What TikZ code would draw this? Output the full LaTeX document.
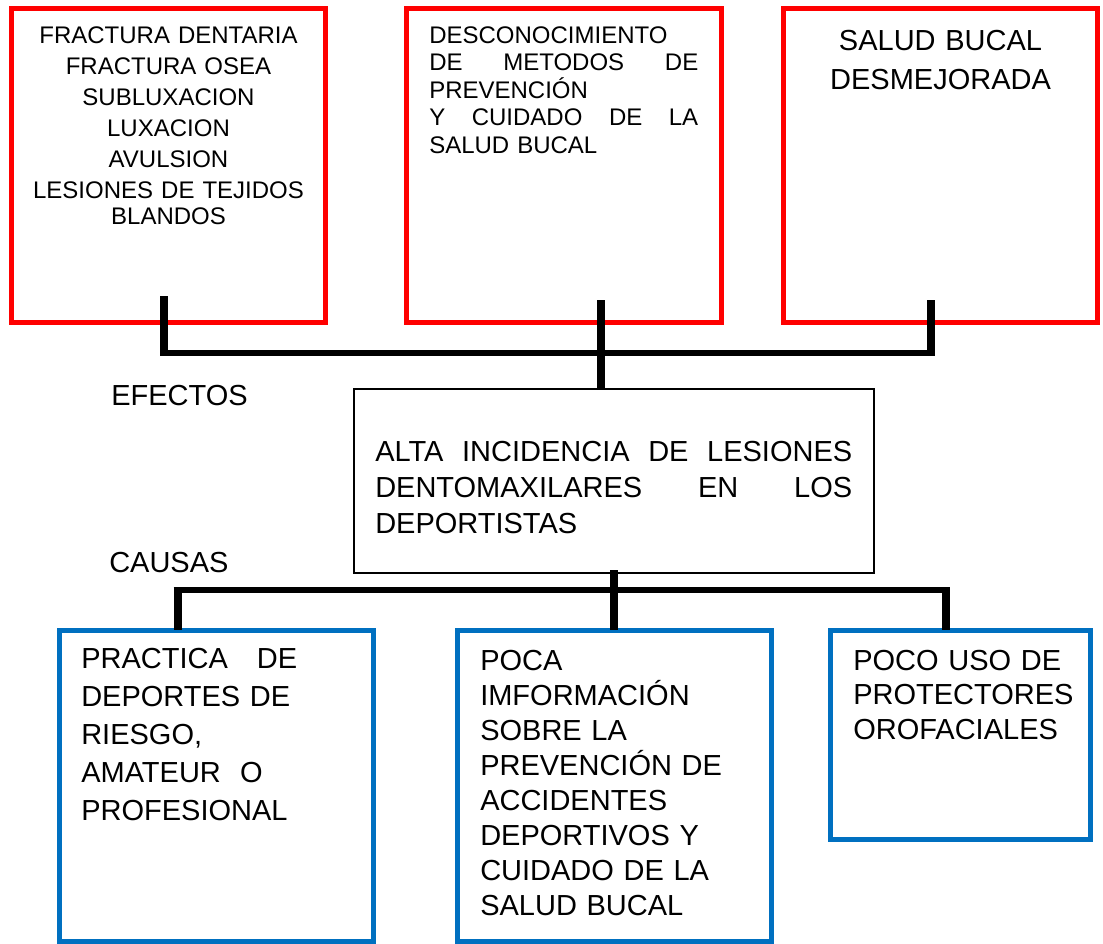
\documentclass[tikz,border=0pt]{standalone}
\usepackage{fontspec}
\setmainfont{Liberation Sans}
\definecolor{rojo}{HTML}{FF0000}
\definecolor{azul}{HTML}{0070C0}
\tikzset{
 efecto/.style={draw=rojo,line width=3.75pt,minimum height=235.5pt,inner sep=0pt,outer sep=0pt,anchor=north west},
 causa/.style={draw=azul,line width=3.75pt,inner sep=0pt,outer sep=0pt,anchor=north west},
 problema/.style={draw=black,line width=1.5pt,minimum width=390pt,minimum height=138pt,inner sep=0pt,outer sep=0pt,anchor=north west},
 tronco/.style={line width=6pt},
 rama/.style={line width=4.5pt,shorten <=-3pt,shorten >=-3pt},
 chico/.style={font=\fontsize{18}{#1}\selectfont,inner sep=0pt},
 chico/.default=23.3,
 grande/.style={font=\fontsize{21.75}{#1}\selectfont,inner sep=0pt},
 grande/.default=26
}
\begin{document}
\begin{tikzpicture}[x=0.75pt,y=-0.75pt]
 \useasboundingbox (0,0) rectangle (1103,943);
 \node[efecto,minimum width=235.7pt] (e1) at (11.5,8.5) {};
 \node[efecto,minimum width=236.3pt] (e2) at (406.7,8.5) {};
 \node[efecto,minimum width=235.5pt] (e3) at (783.5,8.5) {};
 \node[problema] (p) at (354,389) {};
 \node[causa,minimum width=235.9pt,minimum height=233.3pt] (c1) at (59,630) {};
 \node[causa,minimum width=235.7pt,minimum height=233.3pt] (c2) at (457.5,630) {};
 \node[causa,minimum width=195.2pt,minimum height=156.9pt] (c3) at (830.5,630) {};

 \node[chico,text width=235pt,align=center,anchor=base] (e1t) at (168.5,43)
  {FRACTURA DENTARIA\\FRACTURA OSEA\\SUBLUXACION\\LUXACION\\AVULSION\\LESIONES DE TEJIDOS\\[-4pt]BLANDOS};
 \node[chico=20.7,text width=201.75pt,align=left,anchor=base west] (e2t) at (429,43)
  {DESCONOCIMIENTO\\\makebox[201.75pt]{DE\hfill METODOS\hfill DE}\\PREVENCIÓN\\\makebox[201.75pt]{Y\hfill CUIDADO\hfill DE\hfill LA}\\SALUD BUCAL};
 \node[grande=29.25,text width=235pt,align=center,anchor=base] (e3t) at (940.5,50)
  {SALUD BUCAL\\DESMEJORADA};
 \node[grande=27,text width=357.75pt,align=left,anchor=base west] (pt) at (375,461)
  {\makebox[357.75pt]{ALTA\hfill INCIDENCIA\hfill DE\hfill LESIONES}\\\makebox[357.75pt]{DENTOMAXILARES\hfill EN\hfill LOS}\\DEPORTISTAS};
 \node[grande,anchor=base west] (ef) at (111,405) {EFECTOS};
 \node[grande,anchor=base west] (ca) at (109,572) {CAUSAS};
 \node[grande=28.5,text width=215pt,align=left,anchor=base west] (c1t) at (81,668)
  {PRACTICA\ \ \ DE\\DEPORTES DE\\RIESGO,\\AMATEUR\ \ O\\PROFESIONAL};
 \node[grande=26.3,text width=215pt,align=left,anchor=base west] (c2t) at (480,670)
  {POCA\\IMFORMACIÓN\\SOBRE LA\\PREVENCIÓN DE\\ACCIDENTES\\DEPORTIVOS Y\\CUIDADO DE LA\\SALUD BUCAL};
 \node[grande=25.9,text width=175pt,align=left,anchor=base west] (c3t) at (853,670)
  {POCO USO DE\\PROTECTORES\\OROFACIALES};

 \coordinate (e1c) at (164,296);
 \coordinate (e2c) at (601,300);
 \coordinate (e3c) at (931,300);
 \coordinate (bE) at (0,352.5);
 \coordinate (pc) at (613.5,570);
 \coordinate (c1c) at (177.5,590);
 \coordinate (c3c) at (946,590);
 \draw[rama] (e1c |- bE) -- (e3c |- bE);
 \draw[tronco] (e1c) -- (e1c |- bE);
 \draw[tronco] (e2c) -- (e2c |- p.north);
 \draw[tronco] (e3c) -- (e3c |- bE);
 \draw[rama] (c1c) -- (c3c);
 \draw[tronco] (pc) -- (pc |- c2.north);
 \draw[tronco] (c1c) -- (c1c |- c1.north);
 \draw[tronco] (c3c) -- (c3c |- c3.north);
\end{tikzpicture}
\end{document}
